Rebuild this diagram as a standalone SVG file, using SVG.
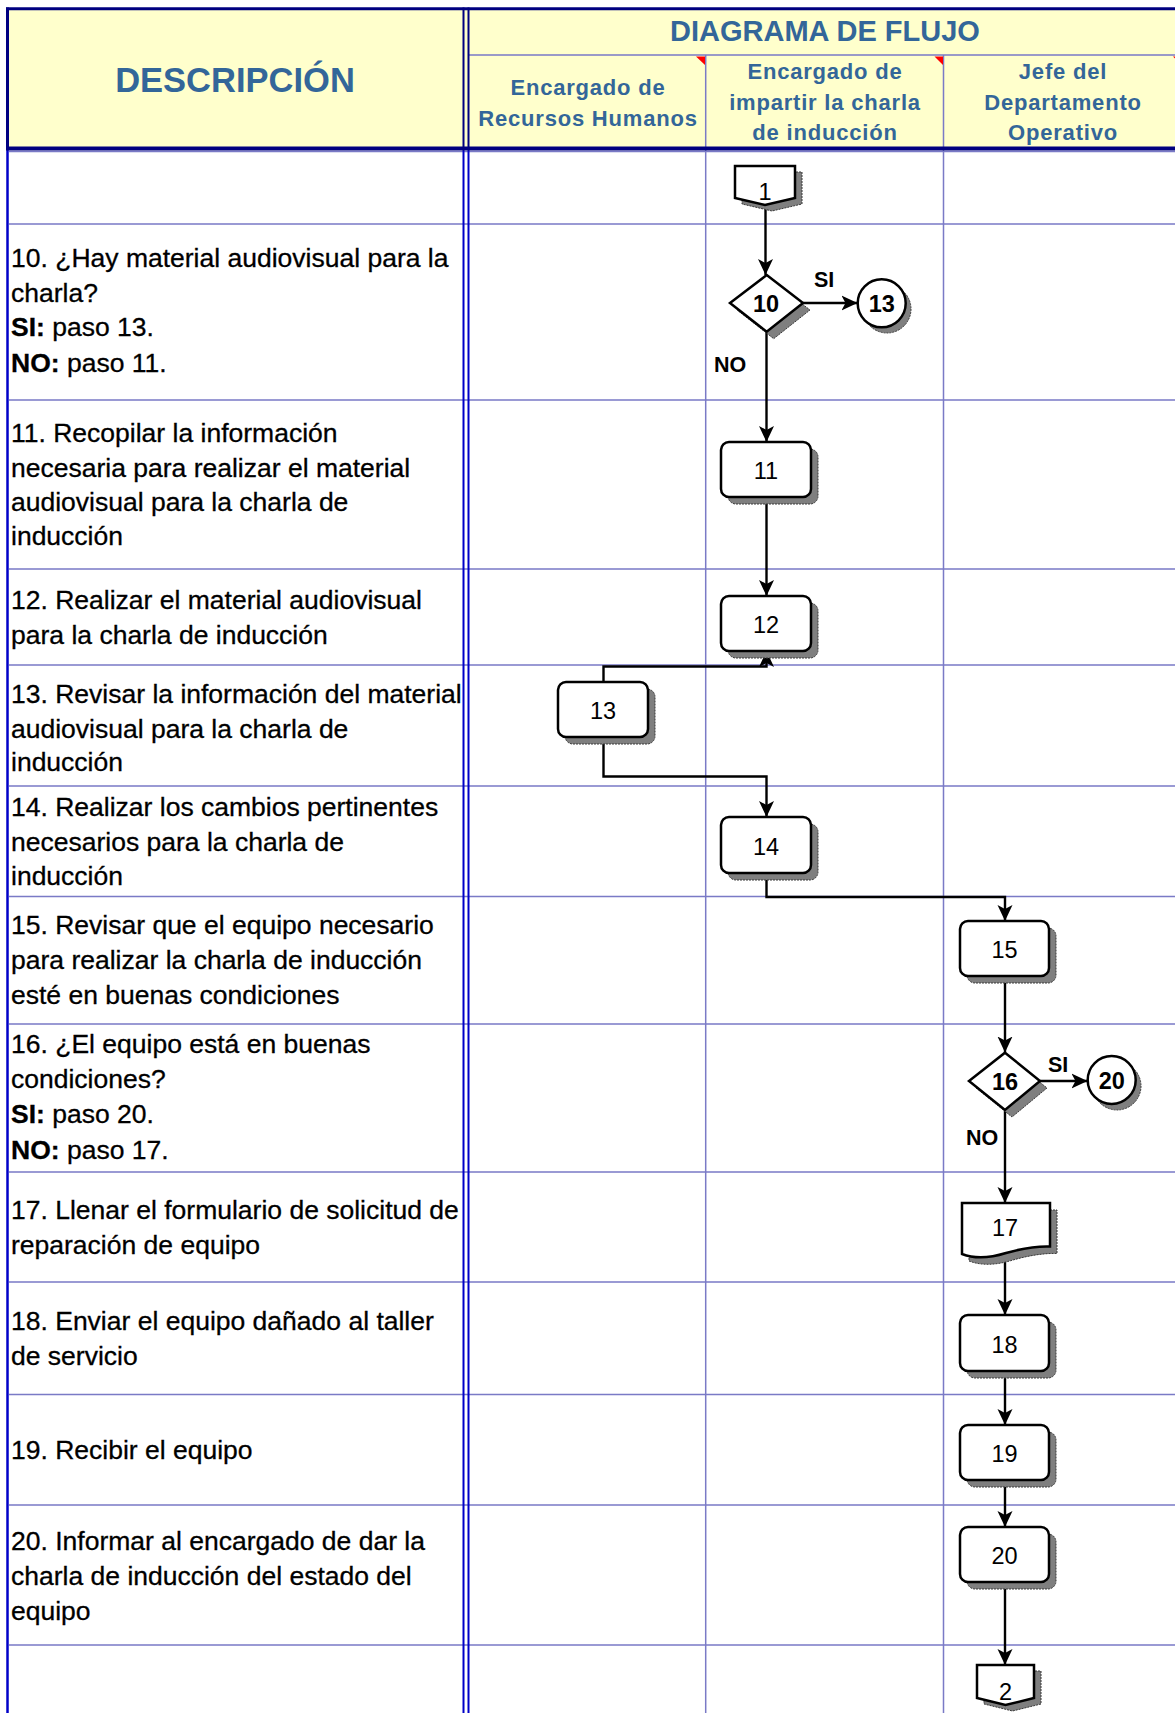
<svg xmlns="http://www.w3.org/2000/svg" width="1175" height="1713" viewBox="0 0 1175 1713">
<defs>
<marker id="ah" markerUnits="userSpaceOnUse" markerWidth="17" markerHeight="16" viewBox="0 0 17 16" refX="16" refY="8" orient="auto">
<path d="M0,0.5 L16,8 L0,15.5 L4,8 Z" fill="#000"/>
</marker>
<style>
.grid{stroke:#7a7ac6;stroke-width:1.5;fill:none}
.nav{stroke:#000080;fill:none}
.blu{stroke:#0000c8;fill:none}
.hd{font-family:"Liberation Sans",Arial,sans-serif;font-weight:bold;fill:#336699}
.lane{font-size:22px;letter-spacing:0.8px;text-anchor:middle}
.desc{font-family:"Liberation Sans",Arial,sans-serif;font-size:26.5px;fill:#000;stroke:#000;stroke-width:0.3}
.shape{fill:#fff;stroke:#000;stroke-width:2.5}
.shadow{fill:#7f7f7f;stroke:#3a3a3a;stroke-width:1;stroke-dasharray:2 1}
.num{font-family:"Liberation Sans",Arial,sans-serif;font-size:23.5px;text-anchor:middle;fill:#000}
.numb{font-weight:bold;font-size:23.5px}
.lbl{font-family:"Liberation Sans",Arial,sans-serif;font-size:21.5px;font-weight:bold;fill:#000}
.red{fill:#ff0000}
</style>
</defs>
<rect x="0" y="0" width="1175" height="1713" fill="#fff"/>

<g id="table">
<rect x="7" y="8" width="1168" height="140" fill="#ffffcc"/>
<path class="grid" d="M9,151.5 H1175 M9,224 H1175 M9,400 H1175 M9,569 H1175 M9,665 H1175 M9,786 H1175 M9,896.5 H1175 M9,1024 H1175 M9,1172 H1175 M9,1282 H1175 M9,1394.5 H1175 M9,1505 H1175 M9,1645 H1175"/>
<path class="grid" d="M468,55 H1175 M705.7,55 V1713 M943.5,55 V1713"/>
<path class="nav" stroke-width="3" d="M6,8.7 H1175"/>
<path class="nav" stroke-width="3" d="M7.5,7.5 V149"/>
<path class="blu" stroke-width="2.5" d="M7.5,149 V1713"/>
<path class="nav" stroke-width="2" d="M463.5,7.5 V149 M468.5,7.5 V149"/>
<path class="blu" stroke-width="2" d="M463.5,149 V1713 M468.5,149 V1713"/>
<path class="nav" stroke-width="4" d="M6,148.5 H1175"/>
<polygon class="red" points="696,56.5 705,56.5 705,65"/>
<polygon class="red" points="934.5,56.5 943,56.5 943,65"/>
<polygon class="red" points="1173,56.5 1182,56.5 1182,65"/>
</g>

<g id="header-text">
<text class="hd" x="235" y="92" font-size="34.5" text-anchor="middle">DESCRIPCIÓN</text>
<text class="hd" x="825" y="41" font-size="29" text-anchor="middle">DIAGRAMA DE FLUJO</text>
<text class="hd lane" x="588"><tspan x="588" y="95">Encargado de</tspan><tspan x="588" y="126">Recursos Humanos</tspan></text>
<text class="hd lane" x="825"><tspan x="825" y="79">Encargado de</tspan><tspan x="825" y="110">impartir la charla</tspan><tspan x="825" y="140">de inducción</tspan></text>
<text class="hd lane" x="1063"><tspan x="1063" y="79">Jefe del</tspan><tspan x="1063" y="110">Departamento</tspan><tspan x="1063" y="140">Operativo</tspan></text>
</g>

<g id="descriptions" class="desc">
<text x="11" y="267">10. ¿Hay material audiovisual para la</text>
<text x="11" y="302">charla?</text>
<text x="11" y="336"><tspan font-weight="bold">SI:</tspan> paso 13.</text>
<text x="11" y="372"><tspan font-weight="bold">NO:</tspan> paso 11.</text>

<text x="11" y="442">11. Recopilar la información</text>
<text x="11" y="477">necesaria para realizar el material</text>
<text x="11" y="511">audiovisual para la charla de</text>
<text x="11" y="545">inducción</text>

<text x="11" y="609">12. Realizar el material audiovisual</text>
<text x="11" y="644">para la charla de inducción</text>

<text x="11" y="703">13. Revisar la información del material</text>
<text x="11" y="738">audiovisual para la charla de</text>
<text x="11" y="771">inducción</text>

<text x="11" y="816">14. Realizar los cambios pertinentes</text>
<text x="11" y="851">necesarios para la charla de</text>
<text x="11" y="885">inducción</text>

<text x="11" y="934">15. Revisar que el equipo necesario</text>
<text x="11" y="969">para realizar la charla de inducción</text>
<text x="11" y="1004">esté en buenas condiciones</text>

<text x="11" y="1053">16. ¿El equipo está en buenas</text>
<text x="11" y="1088">condiciones?</text>
<text x="11" y="1123"><tspan font-weight="bold">SI:</tspan> paso 20.</text>
<text x="11" y="1159"><tspan font-weight="bold">NO:</tspan> paso 17.</text>

<text x="11" y="1219">17. Llenar el formulario de solicitud de</text>
<text x="11" y="1254">reparación de equipo</text>

<text x="11" y="1330">18. Enviar el equipo dañado al taller</text>
<text x="11" y="1365">de servicio</text>

<text x="11" y="1459">19. Recibir el equipo</text>

<text x="11" y="1550">20. Informar al encargado de dar la</text>
<text x="11" y="1585">charla de inducción del estado del</text>
<text x="11" y="1620">equipo</text>
</g>

<g id="connectors" fill="none" stroke="#000" stroke-width="2.4">
<path d="M765.5,205 V275" marker-end="url(#ah)"/>
<path d="M803,303 H857.5" marker-end="url(#ah)"/>
<path d="M766.5,331.5 V442" marker-end="url(#ah)"/>
<path d="M766.5,497 V596" marker-end="url(#ah)"/>
<path d="M603.5,682 V666.5 H766.5 V651" marker-end="url(#ah)"/>
<path d="M603.5,737 V776.5 H766.5 V817" marker-end="url(#ah)"/>
<path d="M766.5,873 V897 H1005 V921" marker-end="url(#ah)"/>
<path d="M1005,976 V1052.5" marker-end="url(#ah)"/>
<path d="M1040,1081 H1087.5" marker-end="url(#ah)"/>
<path d="M1005,1110 V1203" marker-end="url(#ah)"/>
<path d="M1005,1253 V1315" marker-end="url(#ah)"/>
<path d="M1005,1371 V1425" marker-end="url(#ah)"/>
<path d="M1005,1480 V1527" marker-end="url(#ah)"/>
<path d="M1005,1582 V1665" marker-end="url(#ah)"/>
</g>
<g id="connector-labels" class="lbl">
<text x="814" y="287">SI</text>
<text x="714" y="372">NO</text>
<text x="1048" y="1072">SI</text>
<text x="966" y="1145">NO</text>
</g>

<g id="node-c1">
<polygon class="shadow" points="742,172 802,172 802,204 772,211 742,204"/>
<polygon class="shape" points="735,166 795,166 795,198 765,205 735,198"/>
<text class="num" x="765" y="200">1</text>
</g>
<g id="node-10">
<polygon class="shadow" points="773.7,282 810,310 773.7,338.7 737,310"/>
<polygon class="shape" points="766.7,275 803,303 766.7,331.7 730,303"/>
<text class="num numb" x="766" y="311.5">10</text>
</g>
<g id="node-c13">
<circle class="shadow" cx="887" cy="309" r="24"/>
<circle class="shape" cx="881.7" cy="303.3" r="24"/>
<text class="num numb" x="881.7" y="311.5">13</text>
</g>
<g id="node-11">
<rect class="shadow" x="728" y="449" width="90" height="55" rx="8"/>
<rect class="shape" x="721" y="442" width="90" height="55" rx="8"/>
<text class="num" x="766" y="479">11</text>
</g>
<g id="node-12">
<rect class="shadow" x="728" y="603" width="90" height="55" rx="8"/>
<rect class="shape" x="721" y="596" width="90" height="55" rx="8"/>
<text class="num" x="766" y="633">12</text>
</g>
<g id="node-13">
<rect class="shadow" x="565" y="689" width="90" height="55" rx="8"/>
<rect class="shape" x="558" y="682" width="90" height="55" rx="8"/>
<text class="num" x="603" y="719">13</text>
</g>
<g id="node-14">
<rect class="shadow" x="728" y="824" width="90" height="56" rx="8"/>
<rect class="shape" x="721" y="817" width="90" height="56" rx="8"/>
<text class="num" x="766" y="854.5">14</text>
</g>
<g id="node-15">
<rect class="shadow" x="967" y="928" width="89" height="55" rx="8"/>
<rect class="shape" x="960" y="921" width="89" height="55" rx="8"/>
<text class="num" x="1004.5" y="958">15</text>
</g>
<g id="node-16">
<polygon class="shadow" points="1012,1059.7 1047,1088 1012,1117 976,1088"/>
<polygon class="shape" points="1005,1052.7 1040,1081 1005,1110 969,1081"/>
<text class="num numb" x="1005" y="1089.5">16</text>
</g>
<g id="node-c20">
<circle class="shadow" cx="1117" cy="1086" r="24"/>
<circle class="shape" cx="1111.7" cy="1080" r="24"/>
<text class="num numb" x="1111.7" y="1088.5">20</text>
</g>
<g id="node-17">
<path class="shadow" d="M969,1210 H1057 V1253.5 C1043,1253 1027,1256 1013,1260 C997,1265 982,1266 969,1261 Z"/>
<path class="shape" d="M962,1203 H1050 V1246.5 C1036,1246 1020,1249 1006,1253 C990,1258 975,1259 962,1254 Z"/>
<text class="num" x="1005" y="1236">17</text>
</g>
<g id="node-18">
<rect class="shadow" x="967" y="1322" width="89" height="56" rx="8"/>
<rect class="shape" x="960" y="1315" width="89" height="56" rx="8"/>
<text class="num" x="1004.5" y="1352.5">18</text>
</g>
<g id="node-19">
<rect class="shadow" x="967" y="1432" width="89" height="55" rx="8"/>
<rect class="shape" x="960" y="1425" width="89" height="55" rx="8"/>
<text class="num" x="1004.5" y="1462">19</text>
</g>
<g id="node-20">
<rect class="shadow" x="967" y="1534" width="89" height="55" rx="8"/>
<rect class="shape" x="960" y="1527" width="89" height="55" rx="8"/>
<text class="num" x="1004.5" y="1564">20</text>
</g>
<g id="node-c2">
<polygon class="shadow" points="984,1671 1041,1671 1041,1704 1012.5,1711 984,1704"/>
<polygon class="shape" points="977,1665 1034,1665 1034,1698 1005.5,1705 977,1698"/>
<text class="num" x="1005.5" y="1700">2</text>
</g>
</svg>
